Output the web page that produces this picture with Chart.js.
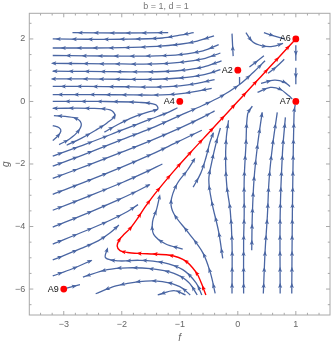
<!DOCTYPE html>
<html lang="en">
<head>
<meta charset="UTF-8">
<title>Stream plot b = 1, d = 1</title>
<script src="https://cdn.jsdelivr.net/npm/chart.js"></script>
<style>
  html, body { margin: 0; padding: 0; background: #fff; }
  #wrap { width: 334px; height: 346px; }
</style>
</head>
<body>
<div id="wrap"><canvas id="flowChart" width="334" height="346"></canvas></div>
<script>
// streamlines, each one listed tail -> head as [f, g]
const fanLines = [
  [[-1.2,2.2],[-2.0,2.19],[-2.85,2.2]],
  [[-0.76,2.2],[-1.0,2.12],[-1.3,2.03],[-2.0,1.99],[-2.6,1.99],[-3.19,2.0]],
  [[-0.41,2.1],[-0.7,1.93],[-1.0,1.83],[-1.4,1.76],[-2.0,1.72],[-2.6,1.71],[-3.19,1.71]],
  [[-0.33,1.82],[-0.6,1.62],[-1.0,1.5],[-1.4,1.46],[-2.0,1.45],[-2.6,1.46],[-3.19,1.47]],
  [[-0.3,1.55],[-0.6,1.36],[-1.0,1.25],[-1.4,1.2],[-2.0,1.2],[-2.6,1.21],[-3.19,1.22]],
  [[-0.28,1.3],[-0.6,1.1],[-1.0,0.99],[-1.4,0.95],[-2.0,0.95],[-2.6,0.96],[-3.19,0.97]],
  [[-0.3,1.02],[-0.6,0.85],[-1.0,0.75],[-1.4,0.71],[-2.0,0.71],[-2.6,0.72],[-3.19,0.72]],
  [[-0.4,0.7],[-0.7,0.58],[-1.0,0.5],[-1.4,0.46],[-2.0,0.47],[-2.6,0.48],[-3.19,0.48]],
  [[-0.45,0.42],[-0.9,0.27],[-1.3,0.21],[-1.8,0.21],[-2.5,0.22],[-3.19,0.22]]
];
const loopLines = [
  [[-3.19,-1.25],[-3.1,-1.1],[-3.05,-0.95],[-3.08,-0.84],[-3.19,-0.77]],
  [[-3.08,-1.38],[-2.9,-1.2],[-2.75,-0.95],[-2.7,-0.7],[-2.82,-0.52],[-3.17,-0.45]],
  [[-2.95,-1.4],[-2.7,-1.18],[-2.45,-0.92],[-2.25,-0.68],[-2.12,-0.45],[-2.2,-0.27],[-2.55,-0.22],[-3.19,-0.22]],
  [[-2.3,-0.98],[-2.05,-0.72],[-1.8,-0.5],[-1.55,-0.34],[-1.38,-0.24],[-1.42,-0.1],[-1.7,-0.03],[-2.38,0],[-3.19,0]]
];
const diagLines = [
  [[-3.19,-1.75],[-2.6,-1.35],[-2.0,-0.92],[-1.5,-0.56],[-1.2,-0.35],[-1.04,-0.2]],
  [[-3.19,-2.07],[-2.6,-1.66],[-2.0,-1.22],[-1.5,-0.86],[-1.0,-0.45],[-0.6,-0.12],[-0.3,0.15],[0.0,0.5],[0.25,0.9],[0.47,1.3]],
  [[-3.19,-2.46],[-2.6,-2.05],[-2.0,-1.62],[-1.5,-1.25],[-1.0,-0.85],[-0.6,-0.5],[-0.4,-0.3]],
  [[-3.19,-2.97],[-2.6,-2.55],[-2.0,-2.1],[-1.5,-1.7],[-1.1,-1.35],[-0.8,-1.08],[-0.62,-0.92]],
  [[-3.19,-3.48],[-2.6,-3.05],[-2.0,-2.6],[-1.6,-2.27],[-1.3,-2.0]],
  [[-3.19,-4.02],[-2.6,-3.58],[-2.1,-3.18],[-1.75,-2.88],[-1.52,-2.66]],
  [[-3.19,-4.56],[-2.6,-4.12],[-2.2,-3.8],[-1.9,-3.52],[-1.72,-3.3]],
  [[-3.19,-5.07],[-2.7,-4.7],[-2.4,-4.45],[-2.2,-4.2],[-2.05,-3.95]],
  [[-3.19,-5.58],[-2.85,-5.35],[-2.52,-5.08]],
  [[-2.95,-5.97],[-2.72,-5.86]]
];
const bottomLines = [
  [[-0.62,-6.19],[-0.72,-5.8],[-0.95,-5.38],[-1.3,-5.15],[-1.7,-5.08],[-2.05,-5.1],[-2.28,-5.0],[-2.25,-4.72]],
  [[-0.7,-6.19],[-0.85,-5.78],[-1.1,-5.5],[-1.5,-5.35],[-1.9,-5.32],[-2.25,-5.38],[-2.67,-5.62]],
  [[-0.82,-6.19],[-1.0,-5.92],[-1.3,-5.76],[-1.7,-5.76],[-2.1,-5.9],[-2.45,-6.15]],
  [[-0.9,-6.19],[-1.1,-6.05],[-1.38,-6.19]]
];
const riseLines = [
  [[-0.95,-4.72],[-1.25,-4.55],[-1.45,-4.25],[-1.47,-3.85],[-1.4,-3.45],[-1.35,-3.05]],
  [[-0.39,-6.14],[-0.47,-5.5],[-0.6,-4.85],[-0.85,-4.2],[-1.1,-3.6],[-1.15,-3.2],[-1.05,-2.65],[-0.87,-2.2],[-0.75,-1.85]],
  [[-0.26,-5.02],[-0.33,-4.17],[-0.45,-3.2],[-0.5,-2.5],[-0.45,-1.95],[-0.37,-1.3],[-0.3,-0.85]],
  [[-0.77,-2.74],[-0.64,-2.3],[-0.55,-1.8],[-0.48,-1.3],[-0.42,-1.0]],
  [[-0.1,-6.14],[-0.1,-4.5],[-0.13,-3.5],[-0.19,-2.7],[-0.21,-2.0],[-0.2,-1.2],[-0.16,-0.6]],
  [[0.1,-6.14],[0.1,-4.5],[0.11,-3.6],[0.11,-2.5],[0.14,-1.4],[0.17,-0.4],[0.25,-0.15]],
  [[0.24,-4.76],[0.25,-3.64],[0.28,-2.48],[0.34,-1.4],[0.42,-0.35]],
  [[0.44,-6.14],[0.47,-4.8],[0.51,-3.64],[0.54,-2.48],[0.6,-1.4],[0.68,-0.35]],
  [[0.73,-6.14],[0.73,-3.64],[0.77,-1.63],[0.82,-0.51]],
  [[0.93,-6.14],[0.94,-3.64],[0.97,-0.35],[0.99,-0.1]]
];
const upperRightLines = [
  [[0.34,0.29],[0.56,0.45],[0.73,0.39],[0.88,0.18],[0.94,0.08]],
  [[0.4,0.58],[0.63,0.68],[0.8,0.62],[0.9,0.48]],
  [[0.52,0.9],[0.66,1.1],[0.8,1.35]],
  [[0.2,1.1],[0.45,1.46]],
  [[0.14,2.2],[0.26,1.9],[0.42,1.78],[0.6,1.76],[0.78,1.86]],
  [[0.45,2.2],[0.62,2.1],[0.8,2.0]],
  [[-0.08,1.45],[-0.09,1.8],[-0.1,2.17]],
  [[1,1.8],[1,1.3]],
  [[1,1.08],[1,0.55]],
  [[0.03,0.55],[0.03,0.78]]
];
const redPath = [[-0.55,-6.19],[-0.62,-5.85],[-0.69,-5.55],[-0.78,-5.32],[-0.88,-5.13],[-1.02,-4.99],
  [-1.2,-4.91],[-1.45,-4.88],[-1.7,-4.86],[-1.9,-4.83],[-2.03,-4.77],[-2.08,-4.62],[-2.04,-4.42],
  [-1.96,-4.25],[-1.85,-4.05],[-1.72,-3.72],[-1.6,-3.38],[-1.47,-3.05],[-1.3,-2.66],[-1.1,-2.22],
  [-0.8,-1.6],[-0.5,-1.0],[-0.2,-0.4],[0.1,0.2],[0.4,0.8],[0.7,1.4],[1,2]];
const pointNames = ['A6', 'A2', 'A4', 'A7', 'A9'];
const pointF = [1, 0, -1, 1, -3];
const pointG = [2, 1, 0, 0, -6];

const FONT = "'Liberation Sans', Arial, sans-serif";
const BLUE = '#4a66a3';
const RED = '#ff0000';
const FRAME = '#a8a8a8';

function toXY(line) {
  return line.map(p => ({ x: p[0], y: p[1] }));
}

const datasets = [];
datasets.push({
  data: pointF.map((f, i) => ({ x: f, y: pointG[i] })),
  showLine: false, pointRadius: 3.4, pointBackgroundColor: RED, pointBorderWidth: 0, order: 0
});
datasets.push({
  data: toXY(redPath), showLine: true, borderColor: RED, borderWidth: 1.4,
  pointRadius: 0, tension: 0.3, arrows: true, order: 1
});
[...fanLines, ...loopLines, ...diagLines, ...bottomLines, ...riseLines, ...upperRightLines].forEach(line => {
  datasets.push({
    data: toXY(line), showLine: true, borderColor: BLUE, borderWidth: 1.3,
    pointRadius: 0, tension: 0.35, arrows: true, order: 2
  });
});

// small arrowheads along each streamline, following the drawn curve
const streamArrows = {
  id: 'streamArrows',
  afterDatasetDraw(chart, args) {
    const ds = chart.data.datasets[args.index];
    if (!ds.arrows) return;
    const pts = args.meta.data;
    const path = [];
    for (let k = 0; k < pts.length - 1; k++) {
      const a = pts[k], b = pts[k + 1];
      const c1x = a.cp2x ?? a.x, c1y = a.cp2y ?? a.y;
      const c2x = b.cp1x ?? b.x, c2y = b.cp1y ?? b.y;
      for (let s = 0; s < 12; s++) {
        const t = s / 12, u = 1 - t;
        path.push([
          u*u*u*a.x + 3*u*u*t*c1x + 3*u*t*t*c2x + t*t*t*b.x,
          u*u*u*a.y + 3*u*u*t*c1y + 3*u*t*t*c2y + t*t*t*b.y
        ]);
      }
    }
    const last = pts[pts.length - 1];
    path.push([last.x, last.y]);

    const ctx = chart.ctx;
    const gap = 16;
    let next = gap / 2, acc = 0;
    ctx.save();
    ctx.fillStyle = ds.borderColor;
    for (let j = 0; j < path.length - 1; j++) {
      const dx = path[j+1][0] - path[j][0], dy = path[j+1][1] - path[j][1];
      const len = Math.hypot(dx, dy);
      if (len === 0) continue;
      while (acc + len >= next) {
        const t = (next - acc) / len;
        const px = path[j][0] + dx * t, py = path[j][1] + dy * t;
        const ux = dx / len, uy = dy / len;
        ctx.beginPath();
        ctx.moveTo(px + ux * 2.8, py + uy * 2.8);
        ctx.lineTo(px - ux * 2.6 - uy * 2.1, py - uy * 2.6 + ux * 2.1);
        ctx.lineTo(px - ux * 1.4, py - uy * 1.4);
        ctx.lineTo(px - ux * 2.6 + uy * 2.1, py - uy * 2.6 - ux * 2.1);
        ctx.closePath();
        ctx.fill();
        next += gap;
      }
      acc += len;
    }
    ctx.restore();
  }
};

const pointLabels = {
  id: 'pointLabels',
  afterDatasetsDraw(chart) {
    const { ctx, scales: { x, y } } = chart;
    ctx.save();
    ctx.fillStyle = '#111';
    ctx.font = '9px ' + FONT;
    ctx.textAlign = 'right';
    ctx.textBaseline = 'middle';
    pointNames.forEach((name, i) => {
      ctx.fillText(name, x.getPixelForValue(pointF[i]) - 5, y.getPixelForValue(pointG[i]));
    });
    ctx.restore();
  }
};

// frame with inward ticks on all four sides
const frameTicks = {
  id: 'frameTicks',
  afterDraw(chart) {
    const { ctx, chartArea: a, scales: { x, y } } = chart;
    ctx.save();
    ctx.strokeStyle = FRAME;
    ctx.lineWidth = 1;
    ctx.strokeRect(a.left, a.top, a.right - a.left, a.bottom - a.top);
    ctx.beginPath();
    for (let i = -17; i <= 7; i++) {
      const v = i / 5;
      const px = x.getPixelForValue(v);
      const len = i % 5 === 0 ? 4 : 2.2;
      ctx.moveTo(px, a.bottom); ctx.lineTo(px, a.bottom - len);
      ctx.moveTo(px, a.top); ctx.lineTo(px, a.top + len);
    }
    for (let i = -13; i <= 5; i++) {
      const v = i / 2;
      const py = y.getPixelForValue(v);
      const len = i % 4 === 0 ? 4 : 2.2;
      ctx.moveTo(a.left, py); ctx.lineTo(a.left + len, py);
      ctx.moveTo(a.right, py); ctx.lineTo(a.right - len, py);
    }
    ctx.stroke();
    ctx.restore();
  }
};

function tickText(v) {
  return v < 0 ? '\u2212' + Math.abs(v) : String(v);
}

new Chart(document.getElementById('flowChart'), {
  type: 'scatter',
  data: { datasets },
  options: {
    responsive: false,
    animation: false,
    layout: { padding: { left: 0, right: 2, top: 0, bottom: 0 } },
    plugins: {
      legend: { display: false },
      tooltip: { enabled: false },
      title: {
        display: true, text: 'b = 1, d = 1', color: '#777',
        font: { size: 9, weight: 'normal', family: FONT },
        padding: { top: 1, bottom: 1.5 }
      }
    },
    scales: {
      x: {
        type: 'linear', min: -3.594, max: 1.589,
        grid: { display: false, drawTicks: false },
        border: { display: false },
        ticks: { stepSize: 1, includeBounds: false, padding: 4, color: '#666',
                 font: { size: 9, family: FONT }, maxRotation: 0, autoSkip: false, callback: tickText },
        title: { display: true, text: 'f', color: '#666',
                 font: { size: 10, style: 'italic', family: FONT }, padding: { top: 0, bottom: 2 } },
        afterFit: s => { s.height = 31; }
      },
      y: {
        type: 'linear', min: -6.83, max: 2.82,
        grid: { display: false, drawTicks: false },
        border: { display: false },
        ticks: { stepSize: 2, includeBounds: false, padding: 4, color: '#666',
                 font: { size: 9, family: FONT }, autoSkip: false, callback: tickText },
        title: { display: true, text: 'g', color: '#666',
                 font: { size: 10, style: 'italic', family: FONT }, padding: { top: 0, bottom: 0 } },
        afterFit: s => { s.width = 29.3; }
      }
    }
  },
  plugins: [streamArrows, pointLabels, frameTicks]
});
</script>
</body>
</html>
